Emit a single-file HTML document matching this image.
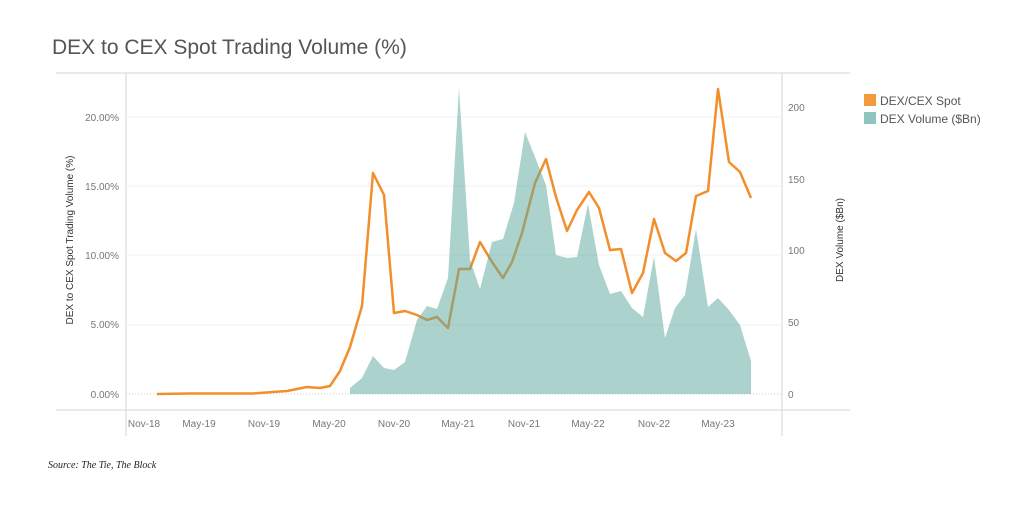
<!DOCTYPE html>
<html><head><style>
body{margin:0;background:#fff;width:1024px;height:512px;overflow:hidden;font-family:"Liberation Sans",sans-serif}
</style></head><body>
<svg width="1024" height="512" xmlns="http://www.w3.org/2000/svg" font-family="Liberation Sans, sans-serif">
<text x="52" y="54" font-size="21" fill="#555">DEX to CEX Spot Trading Volume (%)</text>
<line x1="56" y1="73" x2="850" y2="73" stroke="#ddd" stroke-width="1.2"/>
<line x1="56" y1="410" x2="850" y2="410" stroke="#ddd" stroke-width="1.2"/>
<line x1="126" y1="73" x2="126" y2="436" stroke="#ddd" stroke-width="1.2"/>
<line x1="782" y1="73" x2="782" y2="436" stroke="#ddd" stroke-width="1.2"/>
<g stroke="#f0f0f0" stroke-width="1">
<line x1="126" y1="117" x2="782" y2="117"/><line x1="126" y1="186" x2="782" y2="186"/>
<line x1="126" y1="255" x2="782" y2="255"/><line x1="126" y1="325" x2="782" y2="325"/>
</g>
<line x1="126" y1="394" x2="782" y2="394" stroke="#ccc" stroke-dasharray="1,2"/>
<polyline fill="none" stroke="#f28e2b" stroke-width="2.5" stroke-linejoin="round" points="157,394 190,393.5 253,393.5 287,391 307,387 320,388 330,386 340,371 350,347 362,306 373,173 384,195 394,313 405,311 417,315 427,320 437,317 448,328 459,269 470,269 480,242 492,262 503,278 512,262 522,233 535,183 546,159 556,197 567,231 577,210 589,192 599,208 610,250 621,249 632,293 643,273 654,219 665,253 676,261 686,253 696,196 708,191 718,89 729,162 740,172 751,198"/>
<polygon fill="#5fa9a1" fill-opacity="0.52" points="350,394 350,388 362,378 373,356 384,368 394,370 405,362 417,320 427,306 437,309 448,278 459,88 470,260 480,289 492,242 503,239 514,203 525,132 535,157 546,185 556,255 567,258 577,257 588,204 599,265 610,294 621,291 632,308 643,317 654,257 665,338 675,308 685,295 696,229 708,307 718,298 729,310 740,325 751,361 751,394"/>
<g font-size="10" fill="#777" text-anchor="end">
<text x="119" y="121">20.00%</text><text x="119" y="190">15.00%</text><text x="119" y="259">10.00%</text><text x="119" y="328">5.00%</text><text x="119" y="398">0.00%</text>
</g>
<g font-size="10" fill="#777">
<text x="788" y="111">200</text><text x="788" y="183">150</text><text x="788" y="254">100</text><text x="788" y="326">50</text><text x="788" y="398">0</text>
</g>
<g font-size="10" fill="#777" text-anchor="middle">
<text x="144" y="427">Nov-18</text><text x="199" y="427">May-19</text><text x="264" y="427">Nov-19</text><text x="329" y="427">May-20</text><text x="394" y="427">Nov-20</text><text x="458" y="427">May-21</text><text x="524" y="427">Nov-21</text><text x="588" y="427">May-22</text><text x="654" y="427">Nov-22</text><text x="718" y="427">May-23</text>
</g>
<text transform="translate(73,240) rotate(-90)" font-size="10" fill="#333" text-anchor="middle">DEX to CEX Spot Trading Volume (%)</text>
<text transform="translate(843,240) rotate(-90)" font-size="10" fill="#333" text-anchor="middle">DEX Volume ($Bn)</text>
<rect x="864" y="94" width="12" height="12" fill="#f39a3c"/>
<rect x="864" y="112" width="12" height="12" fill="#8fc5bf"/>
<text x="880" y="105" font-size="12" fill="#555">DEX/CEX Spot</text>
<text x="880" y="123" font-size="12" fill="#555">DEX Volume ($Bn)</text>
<text x="48" y="468" font-size="10" font-style="italic" font-family="Liberation Serif, serif" fill="#222">Source: The Tie, The Block</text>
</svg>
</body></html>
